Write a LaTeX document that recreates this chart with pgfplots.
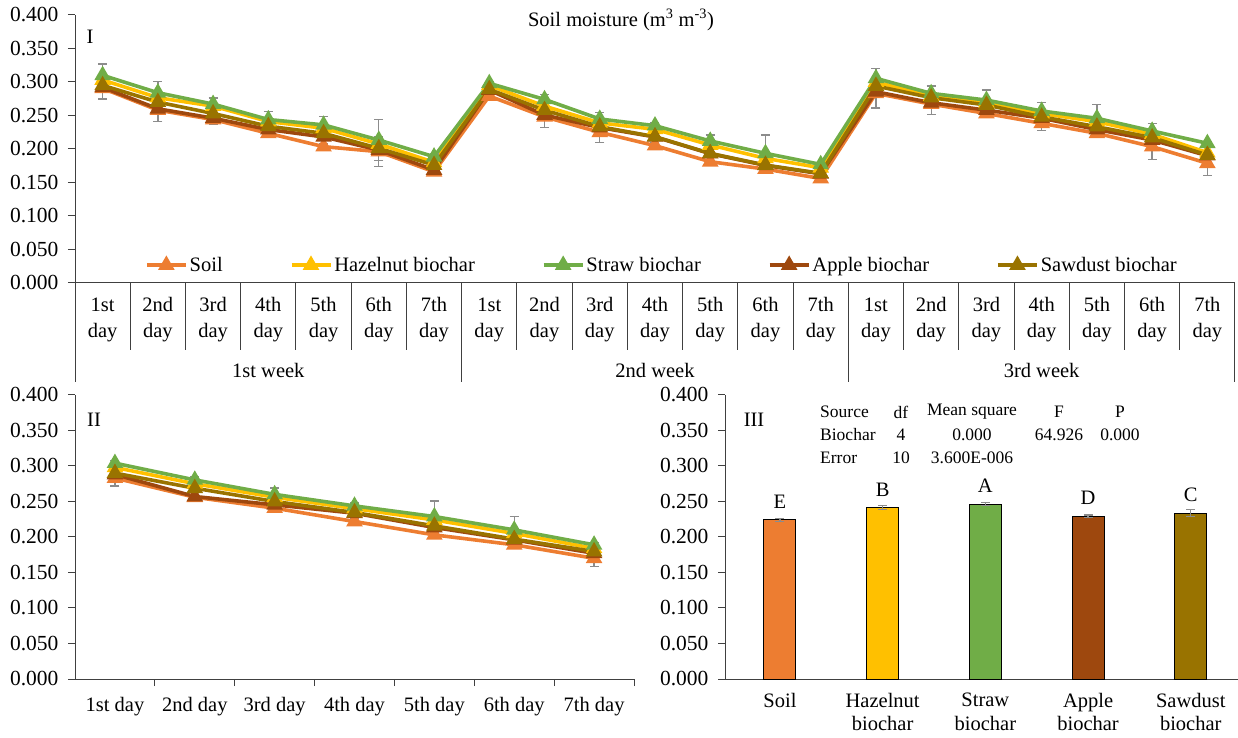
\documentclass[border=0pt]{standalone}
\usepackage{fontspec}
\setmainfont{Liberation Serif}
\usepackage{pgfplots}
\usepackage{pgfplotstable}
\pgfplotsset{compat=1.18}
\definecolor{csoil}{HTML}{ED7D31}
\definecolor{chazel}{HTML}{FFC000}
\definecolor{cstraw}{HTML}{70AD47}
\definecolor{capple}{HTML}{9E480E}
\definecolor{csaw}{HTML}{997300}
\definecolor{cerr}{HTML}{8C8C8C}
\definecolor{caxis}{HTML}{404040}
\newcommand\fs{\fontsize{20.5bp}{26bp}\selectfont}
\newcommand\fsb{\fontsize{20.5bp}{23.5bp}\selectfont}
\newcommand\fsy{\fontsize{21.5bp}{26bp}\selectfont}
\newcommand\fst{\fontsize{17.5bp}{21bp}\selectfont}

% top chart: 3 weeks x 7 days
\pgfplotstableread{
x soil soilE hazel straw strawE apple saw
1  0.2905 0.016 0.303  0.310  0.017  0.292  0.295
2  0.258  0.017 0.2766 0.284  0.017  0.260  0.270
3  0.244  0.007 0.264  0.267  0.009  0.246  0.253
4  0.2234 0.004 0.241  0.244  0.012  0.229  0.234
5  0.2035 0.004 0.231  0.236  0.012  0.218  0.2234
6  0.196  0.022 0.2075 0.2134 0.031  0.1985 0.201
7  0.166  0.006 0.180  0.1885 0.004  0.1687 0.176
8  0.279  0.003 0.295  0.298  0.003  0.288  0.289
9  0.248  0.016 0.264  0.274  0.007  0.2507 0.258
10 0.2249 0.015 0.239  0.2448 0.010  0.232  0.2333
11 0.205  0.005 0.2294 0.2348 0.004  0.218  0.2184
12 0.181  0.006 0.206  0.212  0.009  0.193  0.1935
13 0.170  0.005 0.186  0.1935 0.0275 0.1755 0.176
14 0.156  0.003 0.172  0.177  0.003  0.163  0.1637
15 0.283  0.022 0.300  0.3055 0.015  0.2855 0.294
16 0.267  0.015 0.279  0.283  0.011  0.269  0.2766
17 0.253  0.004 0.269  0.273  0.015  0.258  0.2657
18 0.2383 0.011 0.253  0.2567 0.013  0.246  0.248
19 0.2234 0.004 0.2408 0.2458 0.021  0.229  0.2333
20 0.2035 0.019 0.222  0.2269 0.0114 0.2134 0.217
21 0.1787 0.018 0.1945 0.2085 0.003  0.190  0.191
}\weekly

% panel II: mean per day
\pgfplotstableread{
x soil soilE hazel straw strawE apple saw
1 0.283  0.011  0.298 0.304  0.004 0.288  0.290
2 0.256  0.003  0.275 0.2804 0.004 0.257  0.2687
3 0.2406 0.004  0.256 0.260  0.009 0.2453 0.250
4 0.2218 0.004  0.240 0.2438 0.004 0.2335 0.2345
5 0.203  0.004  0.224 0.2288 0.022 0.2134 0.2157
6 0.189  0.004  0.205 0.210  0.019 0.196  0.197
7 0.170  0.0115 0.184 0.189  0.003 0.177  0.1796
}\daily

% panel III: overall means
\pgfplotstableread{
x y e l
0 0.2242 0.002  E
}\mSoil
\pgfplotstableread{
x y e l
1 0.2415 0.003  B
}\mHazel
\pgfplotstableread{
x y e l
2 0.2462 0.002  A
}\mStraw
\pgfplotstableread{
x y e l
3 0.2293 0.0015 D
}\mApple
\pgfplotstableread{
x y e l
4 0.2335 0.005  C
}\mSaw

\pgfplotsset{
  base/.style={scale only axis, axis x line*=bottom, axis y line*=left,
    ymin=0, ymax=0.4, ytick={0,0.05,0.1,0.15,0.2,0.25,0.3,0.35,0.4},
    tick align=outside, major tick length=7bp,
    axis line style={caxis, line width=1bp},
    every tick/.style={caxis, line width=1bp},
    tick label style={font=\fs},
    yticklabel style={font=\fsy, xshift=-6bp, /pgf/number format/.cd, fixed, fixed zerofill, precision=3, assume math mode=true},
    clip=false},
  ser/.style={line width=3.6bp, mark=triangle*, mark size=6bp, mark options={solid}},
  errs/.style={error bars/y dir=both, error bars/y explicit,
    error bars/error bar style={line width=1.3bp, draw=cerr},
    error bars/error mark options={rotate=90, mark size=4.5bp, line width=1.3bp, draw=cerr}},
  mbar/.style={bar shift=0pt, draw=black, line width=1bp, errs},
}

\begin{document}
\begin{tikzpicture}
% ---------------- Panel I ----------------
\begin{axis}[base, at={(75bp,455bp)}, anchor=south west,
  width=1160bp, height=268bp,
  xmin=0.5, xmax=21.5,
  xtick={1,...,21},
  xticklabels={1st\\day,2nd\\day,3rd\\day,4th\\day,5th\\day,6th\\day,7th\\day,
               1st\\day,2nd\\day,3rd\\day,4th\\day,5th\\day,6th\\day,7th\\day,
               1st\\day,2nd\\day,3rd\\day,4th\\day,5th\\day,6th\\day,7th\\day},
  xticklabel style={align=center, yshift=-4bp},
  major x tick style={draw=none},
  legend style={at={(0.506,0.067)}, anchor=center, draw=none, fill=none,
    font=\fs, legend columns=5,
    /tikz/every even column/.append style={column sep=65bp}},
  legend image code/.code={\draw[mark repeat=2,mark phase=2,#1] plot coordinates {(0bp,0bp) (19.5bp,0bp) (39bp,0bp)};},
]
\addplot[ser, color=csoil, errs] table[x=x, y=soil, y error=soilE] {\weekly};
\addlegendentry{Soil}
\addplot[ser, color=chazel] table[x=x, y=hazel] {\weekly};
\addlegendentry{Hazelnut biochar}
\addplot[ser, color=cstraw, errs] table[x=x, y=straw, y error=strawE] {\weekly};
\addlegendentry{Straw biochar}
\addplot[ser, color=capple] table[x=x, y=apple] {\weekly};
\addlegendentry{Apple biochar}
\addplot[ser, color=csaw] table[x=x, y=saw] {\weekly};
\addlegendentry{Sawdust biochar}
\pgfplotsinvokeforeach{1.5,2.5,3.5,4.5,5.5,6.5,8.5,9.5,10.5,11.5,12.5,13.5,15.5,16.5,17.5,18.5,19.5,20.5}{
  \draw[caxis, line width=1bp] (axis cs:#1,0) -- ++(0bp,-67bp);}
\pgfplotsinvokeforeach{0.5,7.5,14.5,21.5}{
  \draw[caxis, line width=1bp] (axis cs:#1,0) -- ++(0bp,-99bp);}
\node[font=\fs, yshift=-87bp] at (axis cs:4,0) {1st week};
\node[font=\fs, yshift=-87bp] at (axis cs:11,0) {2nd week};
\node[font=\fs, yshift=-87bp] at (axis cs:18,0) {3rd week};
\end{axis}

% ---------------- Panel II ----------------
\begin{axis}[base, at={(75bp,59bp)}, anchor=south west,
  width=559bp, height=284bp,
  xmin=0.5, xmax=7.5,
  xtick={1,...,7},
  xticklabels={1st day,2nd day,3rd day,4th day,5th day,6th day,7th day},
  xticklabel style={yshift=-8bp},
  major x tick style={draw=none},
  minor xtick={1.5,2.5,3.5,4.5,5.5,6.5,7.5},
  minor tick length=7bp,
  minor x tick style={caxis, line width=1bp},
]
\addplot[ser, color=csoil, errs] table[x=x, y=soil, y error=soilE] {\daily};
\addplot[ser, color=chazel] table[x=x, y=hazel] {\daily};
\addplot[ser, color=cstraw, errs] table[x=x, y=straw, y error=strawE] {\daily};
\addplot[ser, color=capple] table[x=x, y=apple] {\daily};
\addplot[ser, color=csaw] table[x=x, y=saw] {\daily};
\end{axis}

% ---------------- Panel III ----------------
\begin{axis}[base, at={(725bp,59bp)}, anchor=south west,
  width=513bp, height=284bp,
  xmin=-0.535, xmax=4.46,
  xtick={0,...,4},
  xticklabels={Soil,Hazelnut\\biochar,Straw\\biochar,Apple\\biochar,Sawdust\\biochar},
  xticklabel style={align=center, anchor=north, yshift=-6bp, font=\fsb, inner ysep=1bp},
  major x tick style={draw=none},
  ybar, bar width=32bp,
  point meta=explicit symbolic,
  nodes near coords,
  nodes near coords style={font=\fs, anchor=center, yshift=18bp, text=black},
]
\addplot[mbar, fill=csoil]  table[x=x, y=y, y error=e, meta=l] {\mSoil};
\addplot[mbar, fill=chazel] table[x=x, y=y, y error=e, meta=l] {\mHazel};
\addplot[mbar, fill=cstraw] table[x=x, y=y, y error=e, meta=l] {\mStraw};
\addplot[mbar, fill=capple] table[x=x, y=y, y error=e, meta=l] {\mApple};
\addplot[mbar, fill=csaw]   table[x=x, y=y, y error=e, meta=l] {\mSaw};
\end{axis}

% ---------------- Texts ----------------
\node[font=\fs] at (621bp,718bp) {Soil moisture (m\textsuperscript{3} m\textsuperscript{-3})};
\node[font=\fs] at (90bp,701bp) {I};
\node[font=\fs] at (94bp,318bp) {II};
\node[font=\fs] at (754bp,318bp) {III};
\begin{scope}[every node/.style={font=\fst, inner sep=0pt}]
\node[anchor=west] at (820bp,326bp) {Source};
\node at (901bp,326bp) {df};
\node at (972bp,326bp) {Mean square};
\node at (1059bp,326bp) {F};
\node at (1120bp,326bp) {P};
\node[anchor=west] at (820bp,303bp) {Biochar};
\node at (901bp,303bp) {4};
\node at (972bp,303bp) {0.000};
\node at (1059bp,303bp) {64.926};
\node at (1120bp,303bp) {0.000};
\node[anchor=west] at (820bp,280bp) {Error};
\node at (901bp,280bp) {10};
\node at (972bp,280bp) {3.600E-006};
\end{scope}
\pgfresetboundingbox
\path[use as bounding box] (0,0) rectangle (1238bp,738bp);
\end{tikzpicture}
\end{document}
